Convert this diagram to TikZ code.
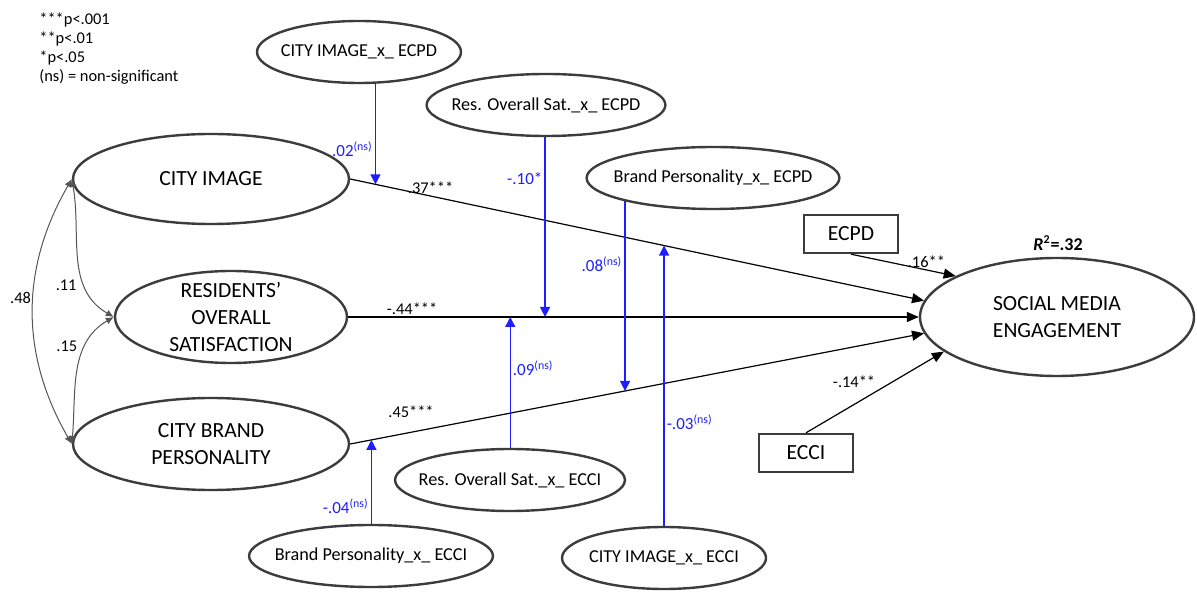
\documentclass[tikz,border=0pt]{standalone}
\usepackage{fontspec}
\setmainfont{Carlito}
\usetikzlibrary{arrows.meta, shapes.geometric}
\usepackage{xcolor}
\definecolor{outline}{RGB}{60,60,60}
\definecolor{covgray}{RGB}{85,85,85}
\definecolor{modblue}{RGB}{30,30,255}

\begin{document}
\begin{tikzpicture}[x=0.5pt, y=-0.5pt, font=\fontsize{8.2}{9.5}\selectfont]
    \tikzstyle{construct}=[ellipse, draw=outline, line width=1.2pt, inner sep=0pt, align=center, font=\fontsize{10.8}{13.3}\selectfont]
    \tikzstyle{moderator}=[ellipse, draw=outline, line width=1.2pt, inner ysep=0pt, inner xsep=-5pt, minimum width=102pt, minimum height=31pt, font=\fontsize{9.1}{11}\selectfont]
    \tikzstyle{control}=[rectangle, draw=outline, line width=1.2pt, minimum width=47pt, minimum height=19pt, font=\fontsize{10.8}{13}\selectfont]
    \tikzstyle{effect}=[-{Triangle[length=6pt,width=5pt]}, line width=0.6pt]
    \tikzstyle{moderation}=[-{Triangle[length=5pt,width=5pt]}, draw=modblue, line width=0.7pt]
    \tikzstyle{cov}=[{Latex[length=4pt,width=3.5pt]}-{Latex[length=4pt,width=3.5pt]}, draw=covgray, line width=0.5pt]
    \tikzstyle{coef}=[inner sep=1pt]
    \tikzstyle{modcoef}=[coef, text=modblue, font=\fontsize{8.5}{10}\selectfont]

    \useasboundingbox (0,0) rectangle (1197,597);

    % Significance key
    \foreach \txt [count=\i] in {***p<.001, **p<.01, *p<.05, (ns) = non-significant}
        \node[anchor=west, inner sep=0pt] (key-\i) at (39,1+19*\i) {\txt};

    % Draw the exogenous constructs
    \node[construct, minimum width=138pt, minimum height=45pt] (ci) at (211,179) {CITY IMAGE};
    \node[construct, minimum width=116pt, minimum height=46pt, inner ysep=-1.5pt] (res) at (231,317) {RESIDENTS’\\OVERALL\\SATISFACTION};
    \node[construct, minimum width=138pt, minimum height=46pt] (cbp) at (211,444) {CITY BRAND\\PERSONALITY};

    % Draw the outcome and the controls
    \node[construct, minimum width=137pt, minimum height=59pt] (sme) at (1057,317) {SOCIAL MEDIA\\ENGAGEMENT};
    \node[control] (ecpd) at (851,234) {ECPD};
    \node[control] (ecci) at (806,453) {ECCI};
    \node[font=\fontsize{9}{10}\selectfont\bfseries] (r2) at (1058,243) {\textit{R}\textsuperscript{2}=.32};

    % Draw the interaction terms
    \foreach \name / \x / \y / \txt in {cix/359/52/{CITY IMAGE\_x\_ ECPD}, rsx/546/105/{Res. Overall Sat.\_x\_ ECPD}, bpx/713/178/{Brand Personality\_x\_ ECPD}, rsy/510/480/{Res. Overall Sat.\_x\_ ECCI}, ciy/664/558/{CITY IMAGE\_x\_ ECCI}, bpy/371/556/{Brand Personality\_x\_ ECCI}}
        \node[moderator] (\name) at (\x,\y) {\txt};

    % Correlations among the exogenous constructs
    \draw[cov] (ci.west) to[bend right=30] node[coef, pos=0.45, left] {.48} (cbp.west);
    \draw[cov] (ci.west) to[out=-80, in=150] node[coef, pos=0.7, left=3pt] {.11} (res.west);
    \draw[cov] (res.west) to[out=210, in=85] node[coef, pos=0.3, left=3pt] {.15} (cbp.west);

    % Direct paths into social media engagement
    \draw[effect] (ci.east) -- node[coef, pos=0.14, above] {.37***} (sme.173);
    \draw[effect] (res.east) -- node[coef, pos=0.112, above] {-.44***} (sme.west);
    \draw[effect] (cbp.east) -- node[coef, pos=0.106, above=6pt] {.45***} (sme.187);
    \draw[effect] (ecpd.south) -- node[coef, pos=0.72, above] {.16**} (sme.158);
    \draw[effect] (ecci.north) -- node[coef, pos=0.52, above left=0pt] {-.14**} (sme.197);

    % Points where the interaction terms act on the paths
    \path (ci.east) -- coordinate[pos=0.044] (on-ci1) coordinate[pos=0.547] (on-ci2) (sme.173);
    \path (res.east) -- coordinate[pos=0.345] (on-res1) coordinate[pos=0.284] (on-res2) (sme.west);
    \path (cbp.east) -- coordinate[pos=0.479] (on-cbp1) coordinate[pos=0.037] (on-cbp2) (sme.187);

    % Interaction arrows
    \draw[moderation] (on-ci1 |- cix.south) -- node[modcoef, pos=0.65, left] {.02\textsuperscript{(ns)}} (on-ci1);
    \draw[moderation] (on-res1 |- rsx.south) -- node[modcoef, pos=0.23, left] {-.10*} (on-res1);
    \draw[moderation] (on-cbp1 |- bpx.195) -- node[modcoef, pos=0.33, left] {.08\textsuperscript{(ns)}} (on-cbp1);
    \draw[moderation] (on-res2 |- rsy.north) -- node[modcoef, pos=0.61, right] {.09\textsuperscript{(ns)}} (on-res2);
    \draw[moderation] (on-ci2 |- ciy.north) -- node[modcoef, pos=0.37, right] {-.03\textsuperscript{(ns)}} (on-ci2);
    \draw[moderation] (on-cbp2 |- bpy.north) -- node[modcoef, pos=0.21, left] {-.04\textsuperscript{(ns)}} (on-cbp2);
\end{tikzpicture}
\end{document}
